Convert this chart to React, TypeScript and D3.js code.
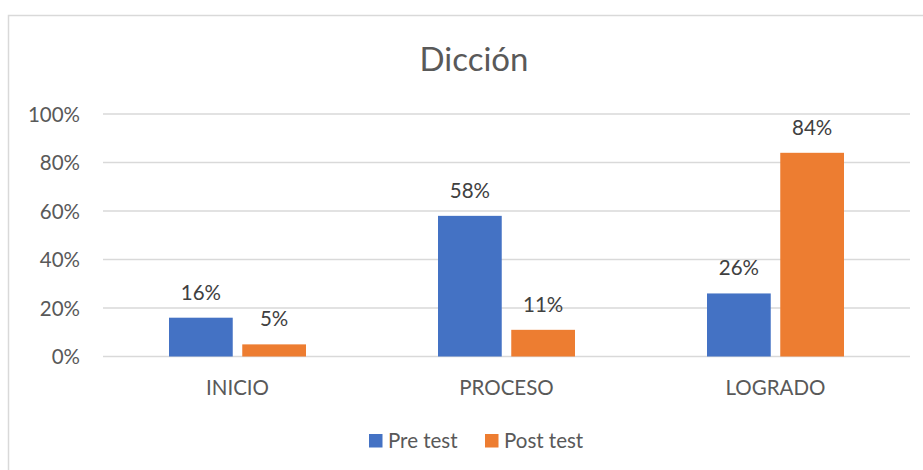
import React from "react";
import * as d3 from "d3";

const categories = ["INICIO", "PROCESO", "LOGRADO"];
const seriesNames = ["Pre test", "Post test"];
const preTest = [16, 58, 26];
const postTest = [5, 11, 84];
const yTicks = [0, 20, 40, 60, 80, 100];
const colors = ["#4472C4", "#ED7D31"];

const W = 923;
const H = 470;
const font = "Lato, 'Open Sans', sans-serif";
const textColor = "#595959";
const fs = 20.5;

export default function App() {
  const margin = { left: 103, right: 13, top: 114, bottom: 113.5 };
  const x = d3.scaleBand().domain(categories).range([margin.left, W - margin.right]);
  const y = d3.scaleLinear().domain([0, 100]).range([H - margin.bottom, margin.top]);
  const inner = d3.scaleBand().domain(seriesNames).range([0, 137]).paddingInner(0.13);
  const series = [preTest, postTest];

  return (
    <svg width={W} height={H} style={{ position: "absolute", left: 0, top: 0, fontFamily: font }}>
      <rect x={0} y={0} width={W} height={H} fill="#fff" />
      <rect x={8.5} y={15.5} width={W} height={H} fill="none" stroke="#D9D9D9" strokeWidth={1.5} />
      <text x={474} y={71} textAnchor="middle" fontSize={33} fill={textColor}>Dicción</text>
      {yTicks.map(t => (
        <g key={t}>
          <line x1={margin.left} x2={W - margin.right} y1={y(t)} y2={y(t)} stroke="#D9D9D9" strokeWidth={1.3} />
          <text x={80} y={y(t) + 7.5} textAnchor="end" fontSize={fs} fill={textColor}>{t}%</text>
        </g>
      ))}
      {categories.map((c, i) => {
        const cx = (x(c) as number) + x.bandwidth() / 2;
        return (
          <g key={c}>
            {series.map((s, j) => {
              const bx = cx - 68.5 + (inner(seriesNames[j]) as number);
              return (
                <g key={j}>
                  <rect x={bx} y={y(s[i])} width={inner.bandwidth()} height={y(0) - y(s[i])} fill={colors[j]} />
                  <text x={bx + inner.bandwidth() / 2} y={y(s[i]) - 18} textAnchor="middle" fontSize={fs} fill="#404040">{s[i]}%</text>
                </g>
              );
            })}
            <text x={cx} y={395} textAnchor="middle" fontSize={fs} fill={textColor}>{c}</text>
          </g>
        );
      })}
      {seriesNames.map((n, j) => {
        const lx = j === 0 ? 369 : 485;
        return (
          <g key={n}>
            <rect x={lx} y={434} width={13.5} height={13.5} fill={colors[j]} />
            <text x={lx + 19} y={448} fontSize={fs} fill={textColor}>{n}</text>
          </g>
        );
      })}
    </svg>
  );
}
